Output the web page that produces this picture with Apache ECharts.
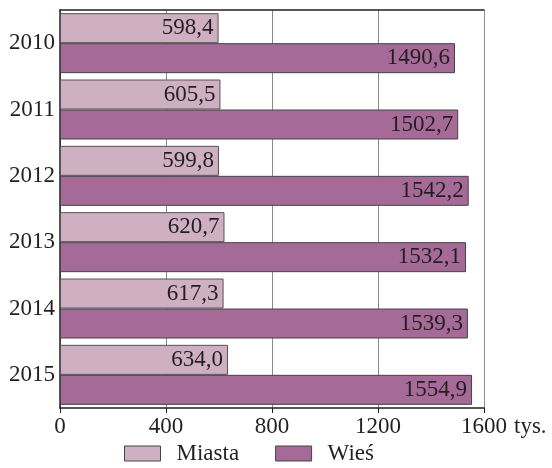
<!DOCTYPE html>
<html><head><meta charset="utf-8">
<script src="https://cdn.jsdelivr.net/npm/echarts@6/dist/echarts.min.js"></script>
<style>html,body{margin:0;padding:0;background:#fff}#c{width:552px;height:468px}</style>
</head><body><div id="c"></div>
<script>
const years = ['2010','2011','2012','2013','2014','2015'];
const miasta = [598.4, 605.5, 599.8, 620.7, 617.3, 634.0];
const wies = [1490.6, 1502.7, 1542.2, 1532.1, 1539.3, 1554.9];
const seriesNames = ['Miasta','Wieś'];
const xTicks = [0, 400, 800, 1200, 1600];
const unit = 'tys.';

const F = '"Liberation Serif", "Times New Roman", serif';
const FS = 23;
const C = '#231f20';
const fmt = v => v.toFixed(1).replace('.', ',');
const chart = echarts.init(document.getElementById('c'));
chart.setOption({
  animation: false,
  textStyle: {fontFamily: F},
  grid: {left: 60, right: 68, top: 10, bottom: 60},
  legend: {
    bottom: -2, left: 119, itemWidth: 36, itemHeight: 15, itemGap: 36, icon: 'rect',
    textStyle: {fontFamily: F, fontSize: FS, color: C, padding: [0,0,0,11]},
    data: seriesNames.map(n => ({name: n, itemStyle: {borderColor: '#444', borderWidth: 1}}))
  },
  xAxis: [{
    type: 'value', min: xTicks[0], max: xTicks[xTicks.length-1], interval: 400,
    axisLine: {show: true, lineStyle: {color: C, width: 1.5}},
    axisTick: {show: true, length: 5, lineStyle: {color: C}},
    axisLabel: {fontFamily: F, fontSize: FS, color: C, margin: 7, formatter: v => String(v)},
    splitLine: {show: true, lineStyle: {color: '#8a8a8a', width: 1}},
    name: unit, nameLocation: 'end', nameGap: 0,
    nameTextStyle: {fontFamily: F, fontSize: FS, color: C, align: 'left', verticalAlign: 'top', padding: [7, 0, 0, 30]}
  }, {
    type: 'value', position: 'top', min: 0, max: 1600, interval: 400,
    axisLine: {show: true, lineStyle: {color: C, width: 1.5}},
    axisTick: {show: false}, axisLabel: {show: false}, splitLine: {show: false}
  }],
  yAxis: {
    type: 'category', data: years, inverse: true,
    axisLine: {show: true, lineStyle: {color: C, width: 1.5}},
    axisTick: {show: false},
    axisLabel: {fontFamily: F, fontSize: FS, color: C, margin: 5}
  },
  series: [{
    name: seriesNames[0], type: 'bar', data: miasta, barWidth: 30, barGap: '0%',
    itemStyle: {color: '#cfb0c2', borderColor: '#555', borderWidth: 1},
    label: {show: true, position: 'insideRight', distance: 5, formatter: p => fmt(p.value),
      fontFamily: F, fontSize: FS, color: C}
  }, {
    name: seriesNames[1], type: 'bar', data: wies, barWidth: 30, barGap: '0%',
    itemStyle: {color: '#a66a98', borderColor: '#444', borderWidth: 1},
    label: {show: true, position: 'insideRight', distance: 5, formatter: p => fmt(p.value),
      fontFamily: F, fontSize: FS, color: C}
  }]
});
</script></body></html>
